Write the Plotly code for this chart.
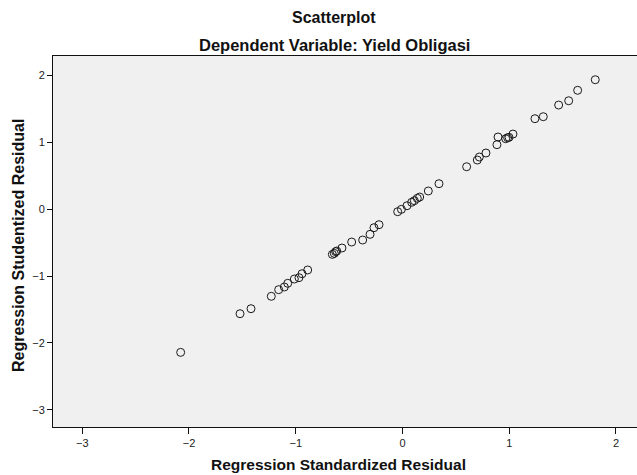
import plotly.graph_objects as go

std_resid = [-2.078, -1.522, -1.419, -1.229, -1.160, -1.107, -1.075, -1.013, -0.970, -0.941,
             -0.888, -0.657, -0.639, -0.626, -0.616, -0.567, -0.476, -0.373, -0.304, -0.267,
             -0.220, -0.045, -0.010, 0.042, 0.086, 0.111, 0.139, 0.161, 0.242, 0.342,
             0.601, 0.701, 0.720, 0.782, 0.885, 0.895, 0.967, 0.985, 0.998, 1.035,
             1.241, 1.319, 1.463, 1.557, 1.641, 1.806]
stud_resid = [-2.140, -1.563, -1.488, -1.303, -1.204, -1.164, -1.109, -1.045, -1.025, -0.966,
              -0.910, -0.677, -0.662, -0.637, -0.627, -0.582, -0.493, -0.463, -0.378, -0.279,
              -0.234, -0.040, -0.005, 0.049, 0.100, 0.124, 0.160, 0.179, 0.269, 0.378,
              0.631, 0.731, 0.776, 0.836, 0.960, 1.075, 1.049, 1.064, 1.070, 1.119,
              1.348, 1.378, 1.552, 1.616, 1.772, 1.930]
tick_vals = [-3, -2, -1, 0, 1, 2]

W, H = 637, 475
L, R, T, B = 53, 0, 56, 48
pw = W - L - R
ph = H - T - B

fig = go.Figure(go.Scatter(
    x=std_resid, y=stud_resid, mode="markers",
    marker=dict(symbol="circle-open", size=8, color="#1a1a1a", line=dict(width=1, color="#1a1a1a")),
    hoverinfo="x+y",
))

font = "Liberation Sans, Arial, sans-serif"

def px_x(p):
    return (p - L) / pw

def px_y(p):
    return 1 - (p - T) / ph

fig.update_layout(
    width=W, height=H,
    margin=dict(l=L, r=R, t=T, b=B),
    paper_bgcolor="white", plot_bgcolor="#f0f0f0",
    showlegend=False,
    font=dict(family=font, color="#222"),
    xaxis=dict(range=[-3.274, 2.197], tickvals=tick_vals, showgrid=False, zeroline=False,
               showline=True, linecolor="#111", linewidth=1, mirror=True,
               ticks="outside", ticklen=6, tickcolor="#111",
               tickfont=dict(size=11, family=font, color="#222")),
    yaxis=dict(range=[-3.254, 2.284], tickvals=tick_vals, showgrid=False, zeroline=False,
               showline=True, linecolor="#111", linewidth=1,
               ticks="outside", ticklen=5, tickcolor="#111",
               tickfont=dict(size=11, family=font, color="#222")),
    annotations=[
        dict(text="<b>Scatterplot</b>", x=px_x(334), y=px_y(17), xref="paper", yref="paper",
             showarrow=False, font=dict(size=16, family=font, color="#111"), xanchor="center", yanchor="middle"),
        dict(text="<b>Dependent Variable: Yield Obligasi</b>", x=px_x(334), y=px_y(45), xref="paper", yref="paper",
             showarrow=False, font=dict(size=16.5, family=font, color="#111"), xanchor="center", yanchor="middle"),
        dict(text="<b>Regression Standardized Residual</b>", x=px_x(338), y=px_y(464), xref="paper", yref="paper",
             showarrow=False, font=dict(size=15.5, family=font, color="#111"), xanchor="center", yanchor="middle"),
        dict(text="<b>Regression Studentized Residual</b>", x=px_x(18), y=px_y(246), xref="paper", yref="paper",
             showarrow=False, textangle=-90, font=dict(size=16, family=font, color="#111"),
             xanchor="center", yanchor="middle"),
    ],
)

fig.write_html("out.html", config={"displayModeBar": False},
               post_script="document.body.style.margin='0px';document.body.style.overflow='hidden';")
